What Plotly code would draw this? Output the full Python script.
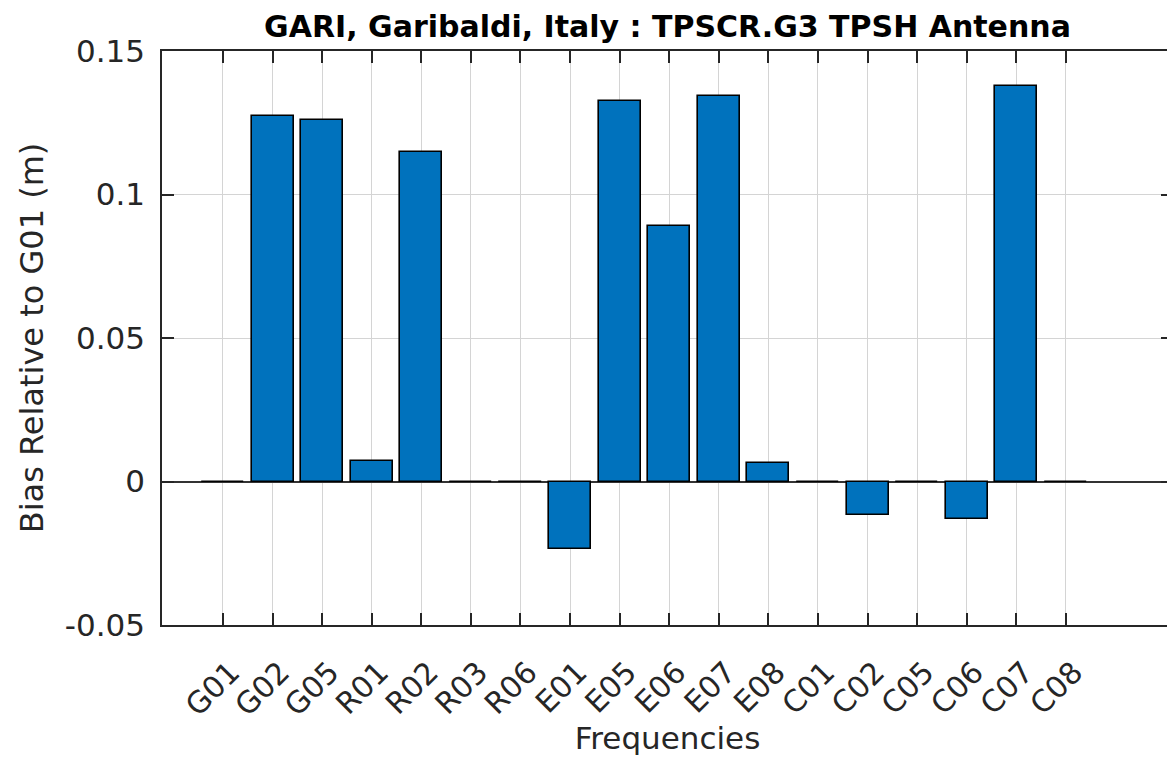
import plotly.graph_objects as go

categories = ["G01", "G02", "G05", "R01", "R02", "R03", "R06", "E01", "E05",
              "E06", "E07", "E08", "C01", "C02", "C05", "C06", "C07", "C08"]
bias = [0.0, 0.1273, 0.1259, 0.0073, 0.1147, 0.0, 0.0, -0.0234, 0.1327,
        0.0892, 0.1344, 0.0066, 0.0, -0.0115, 0.0, -0.0130, 0.1378, 0.0]
y_ticks = [-0.05, 0, 0.05, 0.1, 0.15]
y_ticktext = ["-0.05", "0", "0.05", "0.1", "0.15"]

x_pos = list(range(len(categories)))

FONT = "DejaVu Sans"
AX = "#262626"
OFF = 8  # page body margin offset

fig = go.Figure()
fig.add_trace(go.Bar(
    x=x_pos, y=bias, width=0.85,
    marker=dict(color="#0072BD", line=dict(color="#000000", width=1.6)),
    showlegend=False,
))

fig.update_layout(
    width=1175, height=750,
    margin=dict(l=162 - OFF, r=2 + OFF, t=51 - OFF, b=125 + OFF),
    paper_bgcolor="white", plot_bgcolor="white",
    title=dict(text="<b>GARI, Garibaldi, Italy : TPSCR.G3 TPSH Antenna</b>",
               x=((162 + 1173) / 2 - OFF) / 1175, xanchor="center",
               y=1 - (26 - OFF) / 750, yanchor="middle",
               font=dict(family=FONT, size=30, color="#000000"),
               automargin=False),
    bargap=0,
)
fig.update_xaxes(
    range=[-1.23, 19.16], automargin=False,
    tickmode="array", tickvals=x_pos, ticktext=categories,
    tickangle=-45,
    tickfont=dict(family=FONT, size=30, color=AX),
    ticks="inside", ticklen=12, tickwidth=1.5, tickcolor=AX,
    ticklabelstandoff=16, ticklabelshift=8,
    showline=True, linecolor=AX, linewidth=1.5, mirror="ticks",
    showgrid=True, gridcolor="#d4d4d4", gridwidth=1.3,
    zeroline=False,
    title=dict(text="Frequencies", font=dict(family=FONT, size=31, color=AX), standoff=6),
)
fig.update_yaxes(
    range=[-0.05, 0.15], automargin=False,
    tickmode="array", tickvals=y_ticks, ticktext=y_ticktext,
    tickfont=dict(family=FONT, size=31, color=AX),
    ticks="inside", ticklen=12, tickwidth=1.5, tickcolor=AX,
    ticklabelstandoff=9,
    showline=True, linecolor=AX, linewidth=1.5, mirror="ticks",
    showgrid=True, gridcolor="#d4d4d4", gridwidth=1.3,
    zeroline=True, zerolinecolor="#333333", zerolinewidth=1.5,
    title=dict(text="Bias Relative to G01 (m)", font=dict(family=FONT, size=32, color=AX), standoff=12),
)

fig.write_html("out.html")
